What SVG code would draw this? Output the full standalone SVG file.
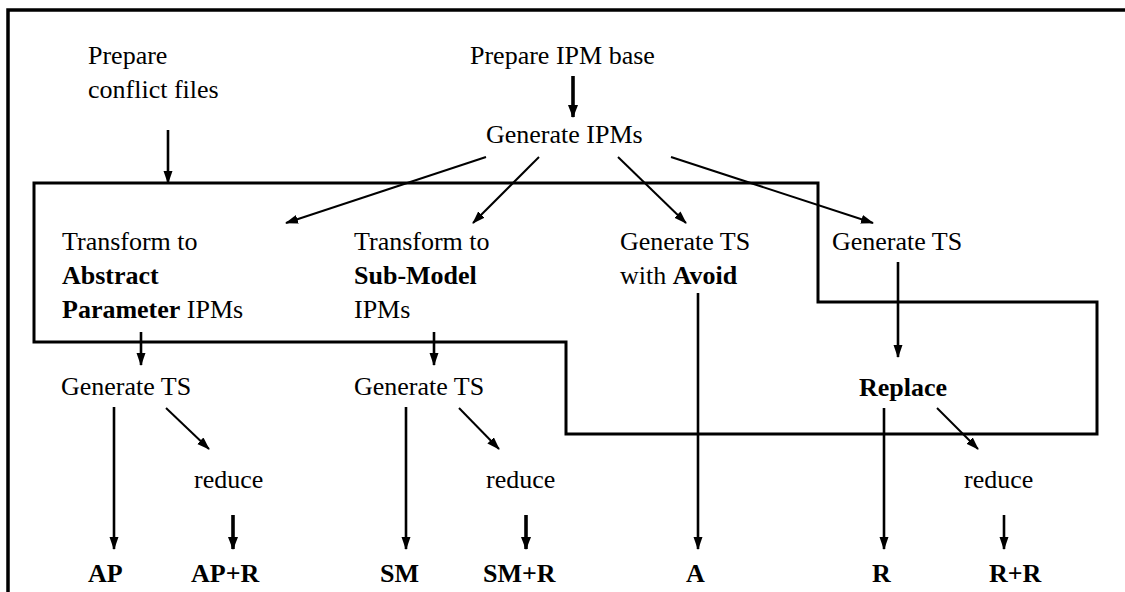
<svg xmlns="http://www.w3.org/2000/svg" width="1125" height="592" viewBox="0 0 1125 592">
  <style>
    text { font-family: "Liberation Serif", "Times New Roman", serif; font-size: 26px; fill: #000; }
    .b { font-weight: bold; }
    .frame { fill: none; stroke: #000; stroke-width: 3.5; }
    .region { fill: none; stroke: #000; stroke-width: 3; stroke-linejoin: miter; }
    .arr { fill: none; stroke: #000; stroke-width: 2; marker-end: url(#head); }
    .arr-m { fill: none; stroke: #000; stroke-width: 2.6; marker-end: url(#head); }
    .arr-t { fill: none; stroke: #000; stroke-width: 3.6; marker-end: url(#headWide); }
  </style>
  <defs>
    <marker id="head" markerUnits="userSpaceOnUse" markerWidth="14" markerHeight="10" refX="12" refY="4.5" orient="auto">
      <path d="M0,0 L13,4.5 L0,9 Z" fill="#000"/>
    </marker>
    <marker id="headWide" markerUnits="userSpaceOnUse" markerWidth="14" markerHeight="12" refX="12" refY="5" orient="auto">
      <path d="M0,0 L13,5 L0,10 Z" fill="#000"/>
    </marker>
  </defs>

  <rect width="1125" height="592" fill="#fff"/>

  <!-- page frame, open at right and bottom -->
  <polyline class="frame" points="8,592 8,10 1125,10"/>

  <!-- stepped outline of the transformation area -->
  <polygon class="region" points="34,183 818,183 818,302 1097,302 1097,434 566,434 566,342 34,342"/>

  <g id="connectors">
    <line class="arr-m" x1="168" y1="130" x2="168" y2="183"/>
    <line class="arr-t" x1="573" y1="76" x2="573" y2="117"/>
    <line class="arr" x1="486" y1="157" x2="286" y2="223"/>
    <line class="arr" x1="539" y1="157" x2="473" y2="223"/>
    <line class="arr" x1="618" y1="157" x2="686" y2="223"/>
    <line class="arr" x1="671" y1="157" x2="873" y2="223"/>
    <line class="arr-m" x1="141" y1="332" x2="141" y2="365"/>
    <line class="arr-m" x1="434" y1="332" x2="434" y2="365"/>
    <line class="arr-m" x1="898" y1="262" x2="898" y2="357"/>
    <line class="arr-m" x1="114" y1="407" x2="114" y2="549"/>
    <line class="arr" x1="166" y1="408" x2="209" y2="449"/>
    <line class="arr-t" x1="233" y1="515" x2="233" y2="549"/>
    <line class="arr-m" x1="406" y1="407" x2="406" y2="549"/>
    <line class="arr" x1="459" y1="408" x2="499" y2="449"/>
    <line class="arr-t" x1="526" y1="515" x2="526" y2="549"/>
    <line class="arr-m" x1="698" y1="293" x2="698" y2="549"/>
    <line class="arr-m" x1="884" y1="408" x2="884" y2="549"/>
    <line class="arr" x1="937" y1="408" x2="978" y2="449"/>
    <line class="arr-m" x1="1004" y1="515" x2="1004" y2="549"/>
  </g>

  <g id="prepare-conflict">
    <text x="88" y="64">Prepare</text>
    <text x="88" y="98">conflict files</text>
  </g>
  <g id="prepare-ipm">
    <text x="470" y="64">Prepare IPM base</text>
  </g>
  <g id="generate-ipms">
    <text x="486" y="143">Generate IPMs</text>
  </g>
  <g id="transform-ap">
    <text x="62" y="250">Transform to</text>
    <text x="62" y="284" class="b">Abstract</text>
    <text x="62" y="318"><tspan class="b">Parameter</tspan> IPMs</text>
  </g>
  <g id="transform-sm">
    <text x="354" y="250">Transform to</text>
    <text x="354" y="284" class="b">Sub-Model</text>
    <text x="354" y="318">IPMs</text>
  </g>
  <g id="generate-avoid">
    <text x="620" y="250">Generate TS</text>
    <text x="620" y="284">with <tspan class="b">Avoid</tspan></text>
  </g>
  <g id="generate-ts-r">
    <text x="832" y="250">Generate TS</text>
  </g>
  <g id="generate-ts-ap">
    <text x="61" y="395">Generate TS</text>
  </g>
  <g id="generate-ts-sm">
    <text x="354" y="395">Generate TS</text>
  </g>
  <g id="replace">
    <text x="859" y="396" class="b">Replace</text>
  </g>
  <g id="reduce-ap">
    <text x="194" y="488">reduce</text>
  </g>
  <g id="reduce-sm">
    <text x="486" y="488">reduce</text>
  </g>
  <g id="reduce-r">
    <text x="964" y="488">reduce</text>
  </g>
  <g id="out-ap"><text x="88" y="582" class="b">AP</text></g>
  <g id="out-apr"><text x="191" y="582" class="b">AP+R</text></g>
  <g id="out-sm"><text x="380" y="582" class="b">SM</text></g>
  <g id="out-smr"><text x="483" y="582" class="b">SM+R</text></g>
  <g id="out-a"><text x="686" y="582" class="b">A</text></g>
  <g id="out-r"><text x="872" y="582" class="b">R</text></g>
  <g id="out-rr"><text x="989" y="582" class="b">R+R</text></g>
</svg>
